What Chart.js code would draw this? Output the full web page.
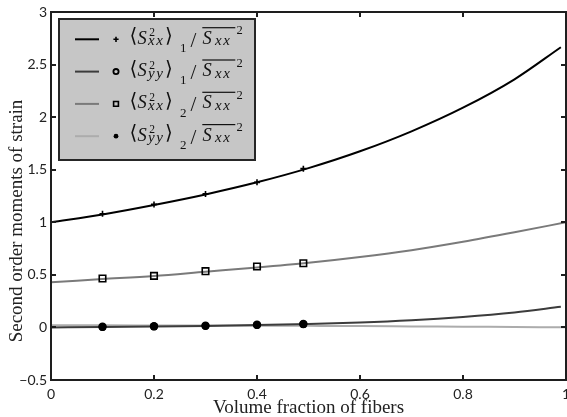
<!DOCTYPE html>
<html>
<head>
<meta charset="utf-8">
<script src="https://cdn.jsdelivr.net/npm/chart.js@4"></script>
<style>
  html, body { margin: 0; padding: 0; background: #ffffff; }
  canvas { display: block; }
</style>
</head>
<body>
<canvas id="c" width="567" height="417"></canvas>
<script>
// Volume fraction grid used for the model curves
const fractionGrid   = [0, 0.1, 0.2, 0.3, 0.4, 0.5, 0.6, 0.7, 0.8, 0.9, 1.0];
const fractionGrid99 = [0, 0.1, 0.2, 0.3, 0.4, 0.5, 0.6, 0.7, 0.8, 0.9, 0.99];

// Model curves (normalised second order moments)
const sxx1Curve = [1.000, 1.075, 1.165, 1.265, 1.380, 1.515, 1.675, 1.865, 2.090, 2.360, 2.665];
const syy1Curve = [0.000, 0.003, 0.008, 0.014, 0.022, 0.032, 0.046, 0.068, 0.100, 0.143, 0.196];
const sxx2Curve = [0.430, 0.460, 0.490, 0.530, 0.570, 0.615, 0.670, 0.735, 0.815, 0.905, 1.000];
const syy2Curve = [0.020, 0.020, 0.019, 0.018, 0.017, 0.015, 0.013, 0.010, 0.007, 0.004, 0.001];

// Simulation samples
const sampleFraction = [0.1, 0.2, 0.3, 0.4, 0.49];
const sxx1Points = [1.08, 1.17, 1.27, 1.38, 1.51];
const syy1Points = [0.004, 0.009, 0.015, 0.023, 0.031];
const sxx2Points = [0.465, 0.49, 0.535, 0.58, 0.61];
const syy2Points = [0.006, 0.012, 0.016, 0.025, 0.032];

// Axis text
const xTickLabels = ['0', '0.2', '0.4', '0.6', '0.8', '1'];
const yTickLabels = ['\u22120.5', '0', '0.5', '1', '1.5', '2', '2.5', '3'];
const xTitle = 'Volume fraction of fibers';
const yTitle = 'Second order moments of strain';

// Legend entries: <S_{sub}^2>_{phase} / mean(S_xx)^2
const seriesNames = ['\u27E8S\u00B2xx\u27E9\u2081/S\u0305xx\u00B2', '\u27E8S\u00B2yy\u27E9\u2081/S\u0305xx\u00B2',
                     '\u27E8S\u00B2xx\u27E9\u2082/S\u0305xx\u00B2', '\u27E8S\u00B2yy\u27E9\u2082/S\u0305xx\u00B2'];
const momentSub  = ['xx', 'yy', 'xx', 'yy'];
const phaseIndex = ['1', '1', '2', '2'];
const lineColors = ['#000000', '#3c3c3c', '#7a7a7a', '#acacac'];

const pairs = (xs, ys) => xs.map((x, i) => ({ x: x, y: ys[i] }));

const curveData  = [pairs(fractionGrid99, sxx1Curve), pairs(fractionGrid99, syy1Curve),
                    pairs(fractionGrid, sxx2Curve), pairs(fractionGrid, syy2Curve)];
const pointData  = [pairs(sampleFraction, sxx1Points), pairs(sampleFraction, syy1Points),
                    pairs(sampleFraction, sxx2Points), pairs(sampleFraction, syy2Points)];
const markerStyle = [
  { pointStyle: 'cross',  pointRadius: 3,   pointBorderWidth: 1.6, pointBackgroundColor: '#000', pointBorderColor: '#000' },
  { pointStyle: 'circle', pointRadius: 3,   pointBorderWidth: 1.8, pointBackgroundColor: 'rgba(0,0,0,0)', pointBorderColor: '#000' },
  { pointStyle: 'rect',   pointRadius: 4.6, pointBorderWidth: 1.6, pointBackgroundColor: 'rgba(0,0,0,0)', pointBorderColor: '#000' },
  { pointStyle: 'circle', pointRadius: 4.2, pointBorderWidth: 0,   pointBackgroundColor: '#000', pointBorderColor: '#000' }
];
// smaller markers shown in the legend box
const legendMarkerRadius = [2.6, 2.6, 3.4, 2.4];

const datasets = [];
curveData.forEach((d, i) => datasets.push({
  label: seriesNames[i], data: d, showLine: true,
  borderColor: lineColors[i], borderWidth: 2, pointRadius: 0,
  cubicInterpolationMode: 'monotone', fill: false, order: 10 + i
}));
pointData.forEach((d, i) => datasets.push(Object.assign({
  label: seriesNames[i] + ' samples', data: d, showLine: false, order: 4 - i
}, markerStyle[i])));

const axisFrame = {
  id: 'axisFrame',
  afterDatasetsDraw(chart) {
    const { ctx, chartArea: a, scales: { x, y } } = chart;
    ctx.save();
    ctx.strokeStyle = '#1e1e1e';
    ctx.lineWidth = 2;
    ctx.beginPath();
    x.ticks.forEach(t => {
      const px = Math.round(x.getPixelForValue(t.value));
      ctx.moveTo(px, a.bottom); ctx.lineTo(px, a.bottom - 5);
      ctx.moveTo(px, a.top);    ctx.lineTo(px, a.top + 5);
    });
    y.ticks.forEach(t => {
      const py = Math.round(y.getPixelForValue(t.value));
      ctx.moveTo(a.left, py);  ctx.lineTo(a.left + 5, py);
      ctx.moveTo(a.right, py); ctx.lineTo(a.right - 5, py);
    });
    ctx.stroke();
    ctx.strokeRect(a.left, a.top, a.right - a.left, a.bottom - a.top);
    ctx.restore();
  }
};

// writes a string one glyph at a time with extra spacing
function spaced(ctx, text, x, y, gap) {
  for (const ch of text) {
    ctx.fillText(ch, x, y);
    x += ctx.measureText(ch).width + gap;
  }
}

function drawMoment(ctx, x0, b, sub, idx) {
  const main = "italic 18.5px 'Liberation Serif'";
  const subFont = "italic 15px 'Liberation Serif'";
  const bracket = "20px 'DejaVu Sans'";
  ctx.textAlign = 'left';

  ctx.textBaseline = 'middle';
  ctx.font = bracket;
  ctx.fillText('\u27E8', x0 - 1.5, b - 6.5);
  ctx.fillText('\u27E9', x0 + 34, b - 6.5);

  ctx.textBaseline = 'alphabetic';
  ctx.font = main;
  ctx.fillText('S', x0 + 6.5, b);
  ctx.fillText('S', x0 + 71.5, b);

  ctx.font = "11.5px 'Liberation Serif'";
  ctx.fillText('2', x0 + 18.3, b - 7.3);
  ctx.font = "12.5px 'Liberation Serif'";
  ctx.fillText('2', x0 + 105.5, b - 9.3);

  ctx.font = subFont;
  spaced(ctx, sub, x0 + 17, b + 1.7, 1.6);
  spaced(ctx, 'xx', x0 + 84, b + 1.7, 1.6);

  ctx.font = "13px 'Liberation Serif'";
  ctx.fillText(idx, x0 + 49, b + 8.4);

  ctx.font = "21px 'Liberation Serif'";
  ctx.fillText('/', x0 + 59.5, b + 3);

  ctx.fillRect(x0 + 71.3, b - 16.5, 33, 1.2);
}

const mathLegend = {
  id: 'mathLegend',
  afterDraw(chart) {
    const ctx = chart.ctx;
    const bx = 59, by = 19, bw = 196, bh = 141;
    ctx.save();
    ctx.fillStyle = '#c6c6c6';
    ctx.fillRect(bx, by, bw, bh);
    ctx.strokeStyle = '#262626';
    ctx.lineWidth = 2;
    ctx.strokeRect(bx, by, bw, bh);
    for (let i = 0; i < 4; i++) {
      const cy = by + 20.3 + i * 32.3;
      const line = chart.data.datasets[i];
      const mk = chart.data.datasets[i + 4];
      ctx.strokeStyle = line.borderColor;
      ctx.lineWidth = 2;
      ctx.beginPath();
      ctx.moveTo(bx + 16, cy); ctx.lineTo(bx + 40, cy);
      ctx.stroke();
      ctx.fillStyle = mk.pointBackgroundColor;
      ctx.strokeStyle = mk.pointBorderColor;
      ctx.lineWidth = mk.pointBorderWidth;
      Chart.helpers.drawPoint(ctx, {
        pointStyle: mk.pointStyle, radius: legendMarkerRadius[i],
        borderWidth: mk.pointBorderWidth, rotation: 0
      }, bx + 57, cy);
      ctx.fillStyle = '#111';
      drawMoment(ctx, bx + 72, cy + 4.3, momentSub[i], phaseIndex[i]);
    }
    // y axis title
    ctx.font = "19px 'Liberation Serif'";
    ctx.fillStyle = '#222';
    ctx.textAlign = 'center';
    ctx.textBaseline = 'middle';
    ctx.translate(17, 221);
    ctx.rotate(-Math.PI / 2);
    ctx.fillText(yTitle, 0, 0);
    ctx.restore();
  }
};

new Chart(document.getElementById('c'), {
  type: 'scatter',
  data: { datasets: datasets },
  options: {
    responsive: false,
    devicePixelRatio: 1,
    animation: false,
    events: [],
    layout: { autoPadding: false, padding: { top: 12, right: 1, bottom: 0, left: 0 } },
    plugins: { legend: { display: false }, tooltip: { enabled: false } },
    scales: {
      x: {
        type: 'linear', min: 0, max: 1,
        grid: { display: false, drawTicks: false },
        border: { display: false },
        ticks: {
          stepSize: 0.2, padding: 6, color: '#222',
          font: { family: 'Lato', size: 14 },
          maxRotation: 0, autoSkip: false,
          callback: (v, i) => xTickLabels[i]
        },
        title: { display: true, text: xTitle, color: '#222',
                 font: { family: 'Liberation Serif', size: 19, lineHeight: 1 },
                 padding: { top: 0, bottom: -1 } },
        afterFit: s => { s.height = 37; s.paddingLeft = 0; s.paddingRight = 0; }
      },
      y: {
        type: 'linear', min: -0.5, max: 3,
        grid: { display: false, drawTicks: false },
        border: { display: false },
        ticks: {
          stepSize: 0.5, padding: 4, color: '#222',
          font: { family: 'Lato', size: 14 },
          autoSkip: false,
          callback: (v, i) => yTickLabels[i]
        },
        afterFit: s => { s.width = 51; s.paddingTop = 0; s.paddingBottom = 0; }
      }
    }
  },
  plugins: [axisFrame, mathLegend]
});
</script>
</body>
</html>
